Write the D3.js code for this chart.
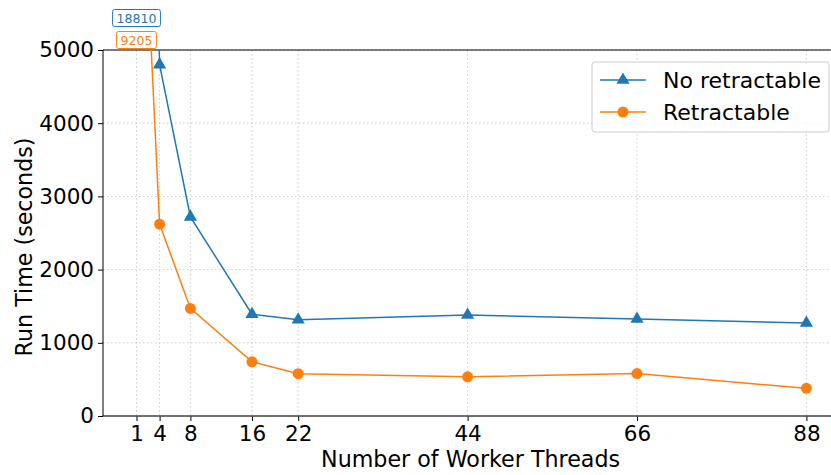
<!DOCTYPE html>
<html><head><meta charset="utf-8">
<script src="https://cdn.jsdelivr.net/npm/d3@7"></script>
<style>body{margin:0;background:#fff}svg{display:block;font-family:"DejaVu Sans",sans-serif}</style>
</head><body><svg id="c" width="831" height="475"></svg>
<script>
const threads = [1, 4, 8, 16, 22, 44, 66, 88];
const noRetractable = [18810, 4800, 2720, 1390, 1315, 1380, 1325, 1270];
const retractable = [9205, 2620, 1470, 740, 578, 535, 580, 378];
const xTicks = [1, 4, 8, 16, 22, 44, 66, 88];
const yTicks = [0, 1000, 2000, 3000, 4000, 5000];
const seriesNames = ["No retractable", "Retractable"];
const colors = ["#1f77b4", "#ff7f0e"];

const svg = d3.select("#c");
const L = 103, T = 50, B = 416;
const x = d3.scaleLinear().domain([-3.35, 92.35]).range([L, L + 7.7 * 95.7]);
const y = d3.scaleLinear().domain([0, 5000]).range([B, T]);
const R = 831;

svg.append("defs").append("clipPath").attr("id", "clip").append("rect")
  .attr("x", L).attr("y", T).attr("width", x.range()[1] - L).attr("height", B - T);

// grid
const g = svg.append("g");
g.selectAll(".vg").data(xTicks).join("line")
  .attr("x1", d => x(d)).attr("x2", d => x(d)).attr("y1", T).attr("y2", B)
  .attr("stroke", "#b0b0b0").attr("stroke-width", 0.8).attr("stroke-dasharray", "1.5,2.5").attr("opacity", 0.8);
g.selectAll(".hg").data(yTicks).join("line")
  .attr("x1", L).attr("x2", R).attr("y1", d => y(d)).attr("y2", d => y(d))
  .attr("stroke", "#b0b0b0").attr("stroke-width", 0.8).attr("stroke-dasharray", "1.5,2.5").attr("opacity", 0.8);

// axes
const xAxis = d3.axisBottom(x).tickValues(xTicks).tickSize(5).tickPadding(5).tickSizeOuter(0);
const yAxis = d3.axisLeft(y).tickValues(yTicks).tickFormat(d3.format("d")).tickSize(5).tickPadding(4).tickSizeOuter(0);
const xa = svg.append("g").attr("transform", `translate(0,${B})`).call(xAxis);
const ya = svg.append("g").attr("transform", `translate(${L},0)`).call(yAxis);
[xa, ya].forEach(a => {
  a.select(".domain").remove();
  a.selectAll("text").attr("font-size", 21.5).attr("fill", "#000").attr("font-family", "DejaVu Sans");
  a.selectAll("line").attr("stroke", "#000").attr("stroke-width", 1);
});
svg.append("line").attr("x1", L).attr("x2", R).attr("y1", B).attr("y2", B).attr("stroke", "#444").attr("stroke-width", 1.4);
svg.append("line").attr("x1", L).attr("x2", L).attr("y1", T).attr("y2", B).attr("stroke", "#000").attr("stroke-width", 1);
svg.append("line").attr("x1", L).attr("x2", R).attr("y1", T).attr("y2", T).attr("stroke", "#000").attr("stroke-width", 1);

// lines
const data = [noRetractable, retractable];
const line = d3.line().x((d, i) => x(threads[i])).y(d => y(d));
const plot = svg.append("g").attr("clip-path", "url(#clip)");
data.forEach((s, k) => {
  plot.append("path").datum(s).attr("d", line).attr("fill", "none")
    .attr("stroke", colors[k]).attr("stroke-width", 1.5);
});
const tri = d3.symbol().type(d3.symbolTriangle).size(75);
plot.selectAll(".t").data(noRetractable).join("path")
  .attr("d", tri).attr("transform", (d, i) => `translate(${x(threads[i])},${y(d)})`)
  .attr("fill", colors[0]);
plot.selectAll(".o").data(retractable).join("circle")
  .attr("cx", (d, i) => x(threads[i])).attr("cy", d => y(d)).attr("r", 5.5)
  .attr("fill", colors[1]);

// annotations for off-chart values
const ann = [
  {v: noRetractable[0], c: colors[0], cy: 18},
  {v: retractable[0], c: colors[1], cy: 40}
];
ann.forEach(a => {
  const ag = svg.append("g");
  const r = ag.append("rect");
  const t = ag.append("text").attr("x", x(threads[0])).attr("y", a.cy + 4.5)
    .attr("text-anchor", "middle").attr("font-size", 12.5).attr("fill", a.c).text(a.v);
  const bb = t.node().getBBox();
  r.attr("x", bb.x - 4).attr("y", a.cy - 8.5).attr("width", bb.width + 8).attr("height", 17)
    .attr("rx", 2).attr("fill", "#fff").attr("stroke", a.c).attr("stroke-width", 1);
});

// labels
svg.append("text").attr("x", x(44) + 3).attr("y", 467).attr("text-anchor", "middle")
  .attr("font-size", 22.2).text("Number of Worker Threads");
svg.append("text").attr("transform", `translate(32,${(T + B) / 2 + 14}) rotate(-90)`).attr("text-anchor", "middle")
  .attr("font-size", 22.2).text("Run Time (seconds)");

// legend
const lg = svg.append("g");
lg.append("rect").attr("x", 592).attr("y", 62).attr("width", 237).attr("height", 70).attr("rx", 3)
  .attr("fill", "#fff").attr("fill-opacity", 0.8).attr("stroke", "#ccc");
seriesNames.forEach((n, k) => {
  const yy = 80 + k * 32;
  lg.append("line").attr("x1", 600).attr("x2", 646).attr("y1", yy).attr("y2", yy).attr("stroke", colors[k]).attr("stroke-width", 1.5);
  if (k === 0) lg.append("path").attr("d", tri).attr("transform", `translate(623,${yy})`).attr("fill", colors[k]);
  else lg.append("circle").attr("cx", 623).attr("cy", yy).attr("r", 5.5).attr("fill", colors[k]);
  lg.append("text").attr("x", 663).attr("y", yy + 7.5).attr("font-size", 22).text(n);
});
</script></body></html>
